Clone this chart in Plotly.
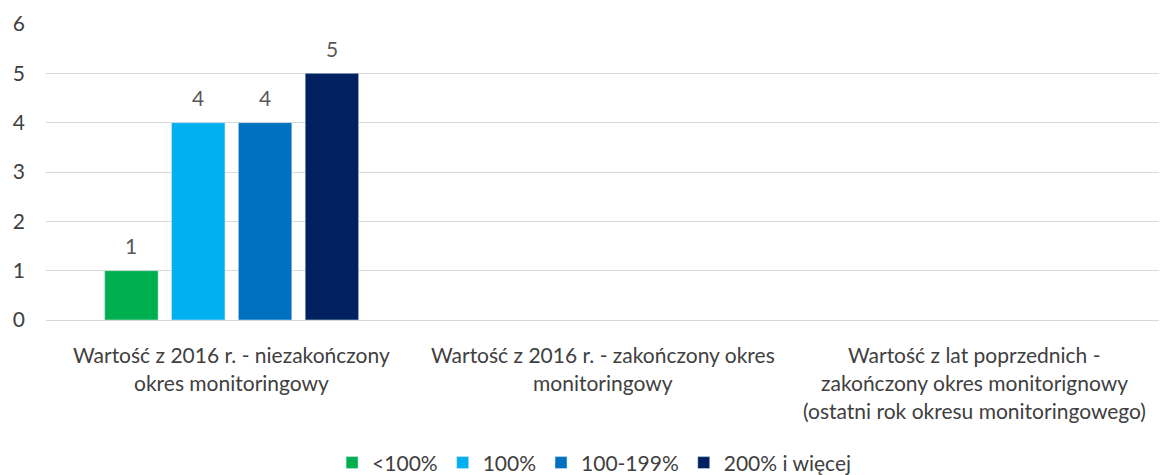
import plotly.graph_objects as go

categories = [
    "Wartość z 2016 r. - niezakończony<br>okres monitoringowy",
    "Wartość z 2016 r. - zakończony okres<br>monitoringowy",
    "Wartość z lat poprzednich -<br>zakończony okres monitorignowy<br>(ostatni rok okresu monitoringowego)",
]
series_names = ["<100%", "100%", "100-199%", "200% i więcej"]
series_values = [
    [1, None, None],
    [4, None, None],
    [4, None, None],
    [5, None, None],
]
colors = ["#00B050", "#00B0F0", "#0070C0", "#002060"]
y_ticks = [0, 1, 2, 3, 4, 5, 6]

FONT = "Lato"
FS = 21
TXT = "#595959"
BARGAP = 0.28
NS = len(series_names)

fig = go.Figure()
for k, (name, vals, col) in enumerate(zip(series_names, series_values, colors)):
    fig.add_trace(go.Bar(
        x=list(range(len(categories))), y=vals, name=name, marker_color=col,
    ))
    slot = (1 - BARGAP) / NS
    for i, v in enumerate(vals):
        if v is None:
            continue
        fig.add_annotation(
            x=i + (k - (NS - 1) / 2) * slot, y=v, xref="x", yref="y",
            yanchor="middle", yshift=25, showarrow=False, text=str(v),
            font=dict(family=FONT, size=FS, color=TXT),
        )

for i, cat in enumerate(categories):
    for j, line in enumerate(cat.split("<br>")):
        fig.add_annotation(
            x=i, y=0, xref="x", yref="paper", yanchor="top", showarrow=False,
            yshift=-20 - 28 * j, text=line,
            font=dict(family=FONT, size=FS, color="#404040"),
        )

fig.update_layout(
    width=1159, height=467,
    margin=dict(l=38, r=7, t=16, b=155, autoexpand=False),
    paper_bgcolor="white", plot_bgcolor="white",
    barmode="group", bargap=BARGAP, bargroupgap=0.2,
    font=dict(family=FONT, size=FS, color=TXT),
    showlegend=True,
    legend=dict(orientation="h", x=0.492, xanchor="center", y=-0.483, yanchor="middle",
                font=dict(family=FONT, size=FS, color="#404040"),
                itemwidth=30, traceorder="normal"),
    xaxis=dict(range=[-0.5, 2.5], showticklabels=False, showgrid=False, zeroline=False,
               showline=False, fixedrange=True),
    yaxis=dict(range=[0, 6], tickvals=y_ticks, showgrid=True, gridcolor="#D9D9D9",
               gridwidth=1, zeroline=True, zerolinecolor="#D9D9D9", zerolinewidth=1,
               tickfont=dict(family=FONT, size=FS, color="#404040"), ticks="",
               ticklabelstandoff=20),
)

fig.write_html("out.html")
